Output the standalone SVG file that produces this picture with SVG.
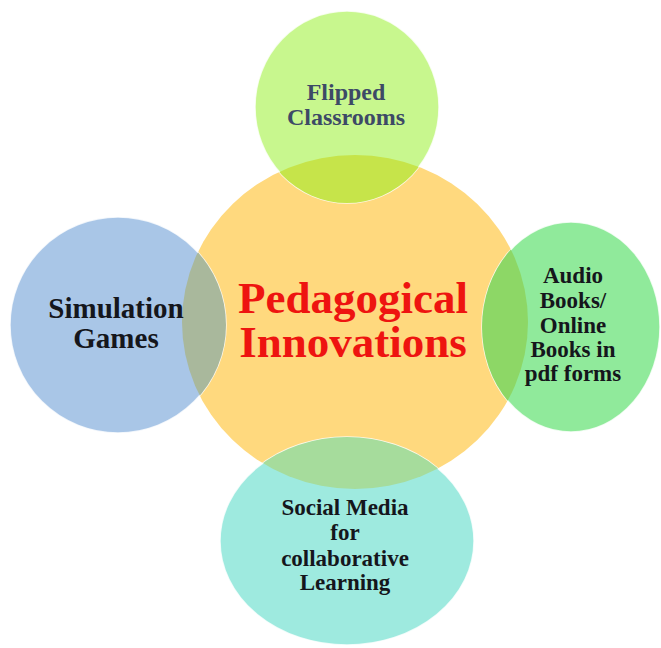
<svg xmlns="http://www.w3.org/2000/svg" width="661" height="648" viewBox="0 0 661 648">
  <defs>
    <style>
      .ring { stroke: #ffffff; stroke-width: 1.5; stroke-opacity: 0.8; }
      .label { font-family: "Liberation Serif", "Times New Roman", serif; font-weight: bold; text-anchor: middle; fill: #15161c; font-size: 23px; }
      .slate { fill: #3d4a66; }
      .title { font-family: "Liberation Serif", "Times New Roman", serif; font-weight: bold; text-anchor: middle; fill: #ee1410; font-size: 45px; }
    </style>
    <clipPath id="hubClip">
      <ellipse cx="355" cy="322" rx="173" ry="167"/>
    </clipPath>
  </defs>
  <rect width="661" height="648" fill="#ffffff"/>

  <!-- central hub -->
  <g id="hub">
    <ellipse cx="355" cy="322" rx="173" ry="167" fill="#ffd97e"/>
  </g>

  <!-- satellites, each with its shared lens tinted where it covers the hub -->
  <g id="flipped">
    <ellipse cx="347" cy="107" rx="92" ry="96" fill="#c8f78e" class="ring"/>
    <ellipse cx="347" cy="107" rx="92" ry="96" fill="#c6e44a" clip-path="url(#hubClip)"/>
    <text class="label slate" x="346" y="100" style="font-size:24px">Flipped</text>
    <text class="label slate" x="346" y="125" style="font-size:24px">Classrooms</text>
  </g>

  <g id="simulation">
    <ellipse cx="118" cy="325" rx="108" ry="108" fill="#a9c6e7" class="ring"/>
    <ellipse cx="118" cy="325" rx="108" ry="108" fill="#a9b89c" clip-path="url(#hubClip)"/>
    <text class="label" x="116" y="318" style="font-size:29px">Simulation</text>
    <text class="label" x="116" y="348" style="font-size:29px">Games</text>
  </g>

  <g id="audio">
    <ellipse cx="571" cy="327" rx="89" ry="105" fill="#90ea9b" class="ring"/>
    <ellipse cx="571" cy="327" rx="89" ry="105" fill="#8dd766" clip-path="url(#hubClip)"/>
    <text class="label" x="573" y="283">Audio</text>
    <text class="label" x="573" y="308">Books/</text>
    <text class="label" x="573" y="333">Online</text>
    <text class="label" x="573" y="357">Books in</text>
    <text class="label" x="573" y="381">pdf forms</text>
  </g>

  <g id="social">
    <ellipse cx="347" cy="541" rx="127" ry="104" fill="#9eeadf" class="ring"/>
    <ellipse cx="347" cy="541" rx="127" ry="104" fill="#a6dc9c" clip-path="url(#hubClip)"/>
    <text class="label" x="345" y="515">Social Media</text>
    <text class="label" x="345" y="540">for</text>
    <text class="label" x="345" y="566">collaborative</text>
    <text class="label" x="345" y="590">Learning</text>
  </g>

  <g id="hub-title">
    <text class="title" x="353" y="313">Pedagogical</text>
    <text class="title" x="353" y="357">Innovations</text>
  </g>

  <!-- no connectors in this layout -->
  <g id="connectors"/>
</svg>
